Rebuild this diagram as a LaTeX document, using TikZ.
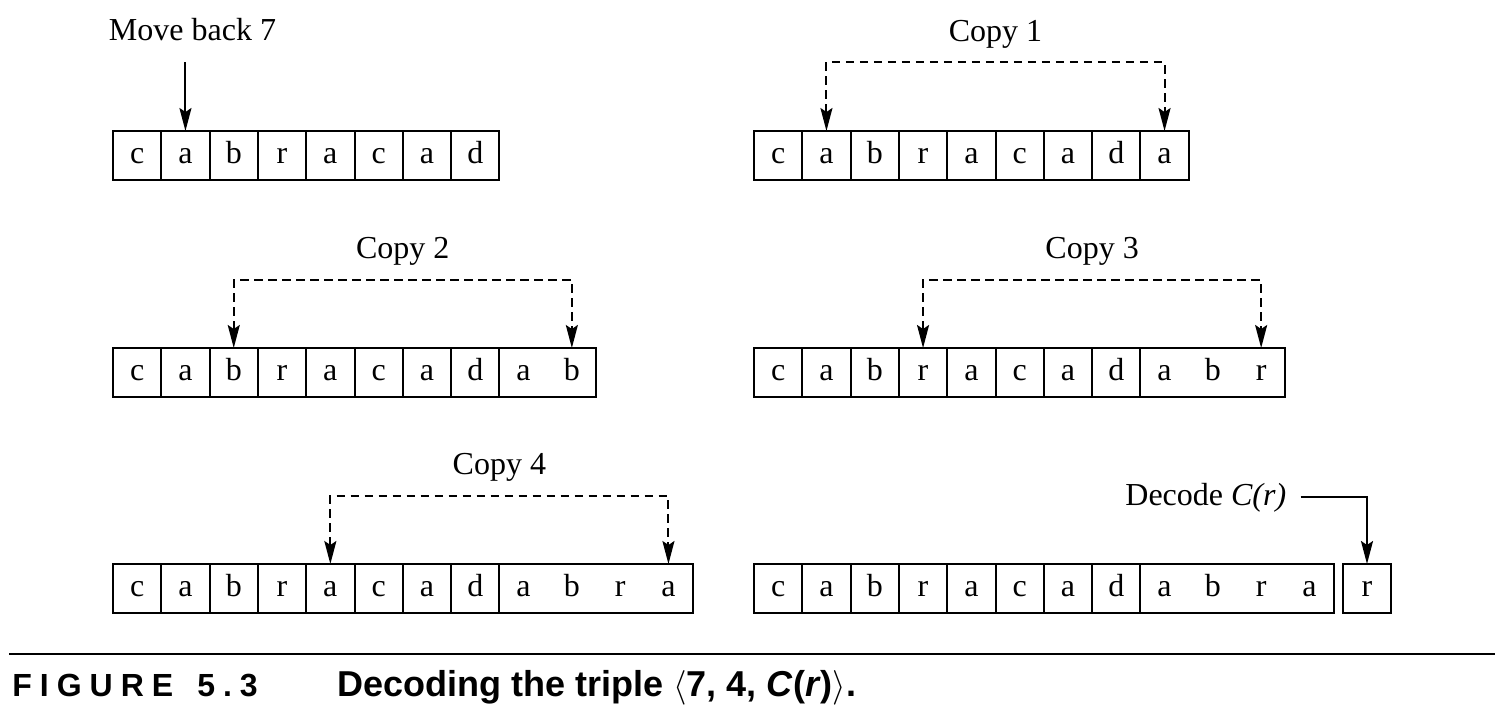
\documentclass[tikz,border=0pt]{standalone}
\usepackage{fontspec}
\setmainfont{Liberation Serif}
\newfontfamily\capfont{Liberation Sans}
\usetikzlibrary{arrows.meta,positioning,fit,calc}
\tikzset{
  cellbox/.style={minimum width=24.15pt, minimum height=24.5pt, inner sep=0pt, outer sep=0pt, text height=11pt, text depth=3pt, font=\fontsize{16}{19}\selectfont},
  framed/.style={draw, line width=1pt},
  movearrow/.style={-{Stealth[length=11.5pt,width=6pt,inset=2pt]}, line width=1pt},
  copyarrow/.style={{Stealth[length=11.5pt,width=6pt,inset=2pt]}-{Stealth[length=11.5pt,width=6pt,inset=2pt]}, line width=1pt, dash pattern=on 4.3pt off 2.7pt},
  steplabel/.style={font=\fontsize{16}{19}\selectfont, inner sep=0pt, anchor=base},
  captext/.style={font=\capfont\bfseries\fontsize{18}{21}\selectfont, inner sep=0pt, anchor=base west}
}

\begin{document}
\begin{tikzpicture}[x=0.5pt, y=-0.5pt]
\useasboundingbox (0,0) rectangle (1501,720);

% the eight decoded letters, one framed cell each
\foreach \row/\x/\y in {back/113/155.5, one/754/155.5, two/113/372.5, three/754/372.5, four/113/588.5, dec/754/588.5}
  \foreach \ch [count=\i] in {c,a,b,r,a,c,a,d}
    \node[cellbox, framed] (\row\i) at ({\x+(\i-0.5)*48.3}, \y) {\ch};

% letters added by the copies
\node[cellbox, framed] (one9) at ({754+8.5*48.3}, 155.5) {a};
\foreach \ch [count=\i from 9] in {a,b}
  \node[cellbox] (two\i) at ({113+(\i-0.5)*48.3}, 372.5) {\ch};
\foreach \ch [count=\i from 9] in {a,b,r}
  \node[cellbox] (three\i) at ({754+(\i-0.5)*48.3}, 372.5) {\ch};
\foreach \ch [count=\i from 9] in {a,b,r,a}
  \node[cellbox] (four\i) at ({113+(\i-0.5)*48.3}, 588.5) {\ch};
\foreach \ch [count=\i from 9] in {a,b,r,a}
  \node[cellbox] (dec\i) at ({754+(\i-0.5)*48.3}, 588.5) {\ch};

\node[framed, inner sep=0pt, fit=(two9)(two10)] (twonew) {};
\node[framed, inner sep=0pt, fit=(three9)(three11)] (threenew) {};
\node[framed, inner sep=0pt, fit=(four9)(four12)] (fournew) {};
\node[framed, inner sep=0pt, fit=(dec9)(dec12)] (decnew) {};

\node[cellbox, framed, minimum width=24pt] (lit) at (1367, 588.5) {r};

% move back
\coordinate (backtail) at ($(back2.north)+(0,-69)$);
\node[steplabel] (backlbl) at (192.5, 40) {Move back 7};
\draw[movearrow] (backtail) -- (back2.north);

% copies
\node[steplabel] (onelbl) at ($(one2.north)!0.5!(one9.north)+(0,-89.5)$) {Copy 1};
\draw[copyarrow] (one2.north) -- ++(0,-69) -| (one9.north);

\node[steplabel] (twolbl) at ($(two3.north)!0.5!(two10.north)+(0,-89.5)$) {Copy 2};
\draw[copyarrow] (two3.north) -- ++(0,-68) -| (two10.north);

\node[steplabel] (threelbl) at ($(three4.north)!0.5!(three11.north)+(0,-89.5)$) {Copy 3};
\draw[copyarrow] (three4.north) -- ++(0,-68) -| (three11.north);

\node[steplabel] (fourlbl) at ($(four5.north)!0.5!(four12.north)+(0,-89.5)$) {Copy 4};
\draw[copyarrow] (four5.north) -- ++(0,-68) -| (four12.north);

% literal symbol
\node[steplabel, anchor=base west] (declbl) at (1125, 505) {Decode \textit{C(r)}};
\draw[movearrow, shorten <=7pt] (declbl.east) -| (lit.north);

% caption
\draw[line width=1pt] (9,654) -- (1495,654);
\node[captext, font=\capfont\bfseries\fontsize{16}{19}\selectfont] (fignum) at (12, 696)
  {F\kern4pt I\kern4pt G\kern4pt U\kern4pt R\kern4pt E\hspace{12pt}5\kern4pt .\kern4pt 3};
\node[captext] (figtitle) at (337, 696)
  {Decoding the triple $\langle$7, 4, \textit{C}(\textit{r})$\rangle$.};

\end{tikzpicture}
\end{document}
